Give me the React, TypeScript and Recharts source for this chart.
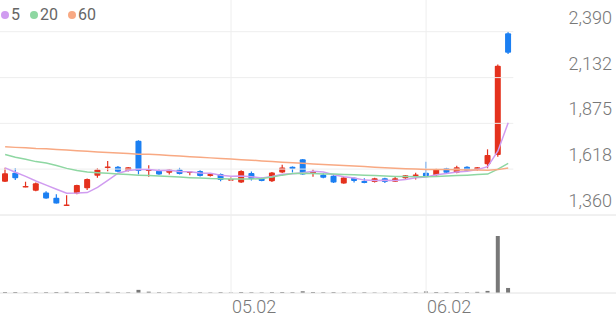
import React from 'react';
import { ComposedChart, Bar, Line, XAxis, YAxis, ReferenceLine } from 'recharts';

// trading days (MM.DD)
const dates = [
  '04.01', '04.02', '04.03', '04.04', '04.07', '04.08', '04.09', '04.10', '04.11', '04.14',
  '04.15', '04.16', '04.17', '04.18', '04.21', '04.22', '04.23', '04.24', '04.25', '04.28',
  '04.29', '04.30', '05.02', '05.07', '05.08', '05.09', '05.12', '05.13', '05.14', '05.15',
  '05.16', '05.19', '05.20', '05.21', '05.22', '05.23', '05.26', '05.27', '05.28', '05.29',
  '05.30', '06.02', '06.04', '06.05', '06.09', '06.10', '06.11', '06.12', '06.13', '06.16',
];

const opens = [
  1547, 1597, 1518, 1496, 1487, 1457, 1414, 1481, 1510, 1580,
  1625, 1631, 1607, 1777, 1607, 1609, 1597, 1616, 1599, 1607,
  1579, 1590, 1556, 1543, 1596, 1567, 1549, 1599, 1631, 1673,
  1590, 1586, 1580, 1537, 1569, 1551, 1546, 1566, 1547, 1566,
  1580, 1597, 1584, 1622, 1597, 1631, 1616, 1645, 1697, 2381,
];
const highs = [
  1625, 1622, 1547, 1543, 1494, 1476, 1471, 1530, 1565, 1622,
  1663, 1635, 1630, 1780, 1640, 1618, 1618, 1625, 1606, 1612,
  1592, 1593, 1575, 1612, 1604, 1571, 1601, 1642, 1633, 1675,
  1616, 1594, 1590, 1573, 1571, 1566, 1569, 1570, 1579, 1585,
  1597, 1659, 1620, 1625, 1637, 1634, 1630, 1729, 2205, 2390,
];
const lows = [
  1545, 1556, 1516, 1494, 1452, 1424, 1412, 1476, 1500, 1569,
  1606, 1600, 1605, 1588, 1575, 1586, 1588, 1588, 1584, 1576,
  1577, 1550, 1554, 1540, 1554, 1549, 1546, 1596, 1599, 1586,
  1575, 1566, 1540, 1535, 1543, 1538, 1543, 1540, 1545, 1563,
  1560, 1573, 1580, 1594, 1594, 1605, 1609, 1622, 1687, 2265,
];
const closes = [
  1594, 1566, 1523, 1538, 1453, 1425, 1419, 1528, 1562, 1616,
  1633, 1603, 1628, 1607, 1618, 1588, 1616, 1590, 1605, 1579,
  1590, 1556, 1562, 1607, 1562, 1551, 1599, 1627, 1618, 1588,
  1605, 1569, 1543, 1571, 1551, 1540, 1566, 1546, 1566, 1583,
  1588, 1577, 1618, 1597, 1628, 1609, 1628, 1697, 2199, 2272,
];
const volumes = [
  52000, 48000, 35000, 40000, 45000, 52000, 60000, 48000, 52000, 56000,
  60000, 44000, 36000, 165000, 70000, 40000, 36000, 31000, 28000, 35000,
  27000, 44000, 27000, 52000, 40000, 31000, 48000, 52000, 44000, 90000,
  52000, 40000, 48000, 35000, 31000, 40000, 27000, 31000, 27000, 35000,
  40000, 80000, 52000, 44000, 48000, 40000, 60000, 110000, 3000000, 265000,
];

// moving averages
const ma5 = [
  1625, 1600, 1577, 1551, 1528, 1505, 1482, 1483, 1486, 1515,
  1555, 1595, 1610, 1615, 1616, 1610, 1611, 1604, 1603, 1596,
  1595, 1584, 1578, 1579, 1575, 1568, 1576, 1589, 1592, 1597,
  1606, 1601, 1586, 1575, 1568, 1556, 1554, 1555, 1554, 1560,
  1569, 1573, 1586, 1593, 1601, 1606, 1615, 1632, 1720, 1878,
];
const ma20 = [
  1700, 1685, 1673, 1660, 1652, 1638, 1622, 1610, 1601, 1597,
  1594, 1590, 1587, 1584, 1582, 1579, 1576, 1573, 1570, 1568,
  1565, 1564, 1562, 1562, 1562, 1565, 1573, 1584, 1593, 1594,
  1593, 1590, 1590, 1588, 1586, 1584, 1582, 1579, 1577, 1576,
  1575, 1575, 1576, 1579, 1582, 1584, 1587, 1590, 1618, 1650,
];
const ma60 = [
  1743, 1740, 1738, 1734, 1732, 1728, 1725, 1721, 1718, 1714,
  1711, 1708, 1705, 1702, 1701, 1698, 1694, 1691, 1688, 1684,
  1681, 1678, 1674, 1671, 1668, 1664, 1661, 1657, 1654, 1651,
  1647, 1644, 1641, 1638, 1635, 1632, 1628, 1625, 1623, 1620,
  1618, 1616, 1615, 1615, 1614, 1613, 1613, 1612, 1615, 1624,
];

const priceTicks = [2390, 2132, 1875, 1618, 1360];
const priceTickLabels = ['2,390', '2,132', '1,875', '1,618', '1,360'];
const dateTicks = ['05.02', '06.02'];

const maSeries = [
  { key: 'ma5', name: '5', color: '#d09cf0' },
  { key: 'ma20', name: '20', color: '#8ed7a2' },
  { key: 'ma60', name: '60', color: '#f8a983' },
];

const RED = '#e4311d';
const BLUE = '#1b7ff2';
const TEXT = '#787878';
const GRID = '#eeeeee';
const SEP = '#e2e2e2';

const W = 616;
const H = 321;
const PLOT_BOTTOM = 293; // bottom of the volume pane
const SLOTS = 60; // candle slots across the full width
// price pane: top tick sits at 31.7px, bottom tick at 215px
const PRICE_TOP_PX = 31.7;
const PRICE_BOTTOM_PX = 215;
const VOL_TOP_PX = 236;

const pricePerPx = (priceTicks[0] - priceTicks[priceTicks.length - 1]) / (PRICE_BOTTOM_PX - PRICE_TOP_PX);
const priceDomain = [
  priceTicks[priceTicks.length - 1] - (PLOT_BOTTOM - PRICE_BOTTOM_PX) * pricePerPx,
  priceTicks[0] + PRICE_TOP_PX * pricePerPx,
];
const volDomain = [0, (Math.max(...volumes) * PLOT_BOTTOM) / (PLOT_BOTTOM - VOL_TOP_PX)];

const rows = Array.from({ length: SLOTS }, (_, i) =>
  i < dates.length
    ? {
        idx: i,
        date: dates[i],
        open: opens[i],
        high: highs[i],
        low: lows[i],
        close: closes[i],
        range: [lows[i], highs[i]],
        volume: volumes[i],
        ma5: ma5[i],
        ma20: ma20[i],
        ma60: ma60[i],
      }
    : { idx: i }
);

const dateTickIdx = dateTicks.map((d) => dates.indexOf(d));

const Candle = (props: any) => {
  const { x, y, width, height, payload } = props;
  if (!payload || payload.open == null) return null;
  const { open, close, high, low } = payload;
  const top = Math.min(y, y + height);
  const h = Math.abs(height);
  const k = high === low ? 0 : h / (high - low);
  const yOf = (v: number) => top + (high - v) * k;
  const color = close >= open ? RED : BLUE;
  const bodyTop = yOf(Math.max(open, close));
  const bodyH = Math.max(yOf(Math.min(open, close)) - bodyTop, 1.6);
  const cx = x + width / 2;
  return (
    <g>
      <line x1={cx} x2={cx} y1={top} y2={top + h} stroke={color} strokeWidth={1.2} />
      <rect x={x} y={bodyTop} width={width} height={bodyH} fill={color} rx={1} />
    </g>
  );
};

const PriceTick = (props: any) => {
  const { y, payload } = props;
  const i = priceTicks.indexOf(payload.value);
  return (
    <text x={W - 4} y={y - 8} textAnchor="end" fill={TEXT} fontSize={18} fontWeight={300} fontFamily="Roboto">
      {i >= 0 ? priceTickLabels[i] : payload.value}
    </text>
  );
};

const DateTick = (props: any) => {
  const { x, payload } = props;
  return (
    <text x={x + 1} y={PLOT_BOTTOM + 20} textAnchor="start" fill={TEXT} fontSize={18} fontWeight={300} fontFamily="Roboto">
      {dates[payload.value]}
    </text>
  );
};

const App = () => {
  return (
    <div style={{ position: 'absolute', left: 0, top: 0, width: W, height: H, background: '#fff' }}>
      <ComposedChart width={W} height={H} data={rows} margin={{ top: 0, right: 0, bottom: 0, left: 0 }}>
        <XAxis
          xAxisId="c"
          dataKey="idx"
          type="category"
          ticks={dateTickIdx}
          interval={0}
          tick={<DateTick />}
          tickLine={false}
          axisLine={{ stroke: SEP }}
          height={H - PLOT_BOTTOM}
        />
        <XAxis xAxisId="v" dataKey="idx" type="category" hide />
        <XAxis xAxisId="slot" dataKey="idx" type="number" domain={[-0.5, SLOTS - 0.5]} hide allowDataOverflow />
        <YAxis
          yAxisId="price"
          orientation="right"
          mirror
          width={60}
          domain={priceDomain}
          ticks={priceTicks}
          interval={0}
          tick={<PriceTick />}
          axisLine={false}
          tickLine={false}
          allowDataOverflow
        />
        <YAxis yAxisId="vol" hide domain={volDomain} allowDataOverflow />

        {priceTicks.slice(0, -1).map((v) => (
          <ReferenceLine
            key={`g-${v}`}
            xAxisId="slot"
            yAxisId="price"
            segment={[
              { x: -0.5, y: v },
              { x: dates.length - 0.5, y: v },
            ]}
            stroke={GRID}
          />
        ))}
        <ReferenceLine xAxisId="c" yAxisId="price" y={priceTicks[priceTicks.length - 1]} stroke={SEP} />
        {dateTickIdx.map((i) => (
          <ReferenceLine key={`v-${i}`} xAxisId="c" yAxisId="price" x={i} stroke={GRID} />
        ))}

        {maSeries.map((s) => (
          <Line
            key={s.key}
            xAxisId="c"
            yAxisId="price"
            type="linear"
            dataKey={s.key}
            stroke={s.color}
            strokeWidth={1.5}
            dot={false}
            activeDot={false}
            isAnimationActive={false}
          />
        ))}
        <Bar
          xAxisId="c"
          yAxisId="price"
          dataKey="range"
          barSize={6}
          shape={<Candle />}
          isAnimationActive={false}
        />
        <Bar xAxisId="v" yAxisId="vol" dataKey="volume" barSize={4} fill="#787878" isAnimationActive={false} />
      </ComposedChart>

      <div
        style={{
          position: 'absolute',
          left: 1,
          top: 6,
          display: 'flex',
          alignItems: 'center',
          fontFamily: 'Roboto',
          fontSize: 16,
          lineHeight: '18px',
          color: '#666',
        }}
      >
        {maSeries.map((s) => (
          <span key={s.key} style={{ display: 'flex', alignItems: 'center', marginRight: 10 }}>
            <span
              style={{ width: 8, height: 8, borderRadius: 4, background: s.color, marginRight: 2, display: 'inline-block' }}
            />
            {s.name}
          </span>
        ))}
      </div>
    </div>
  );
};

export default App;
